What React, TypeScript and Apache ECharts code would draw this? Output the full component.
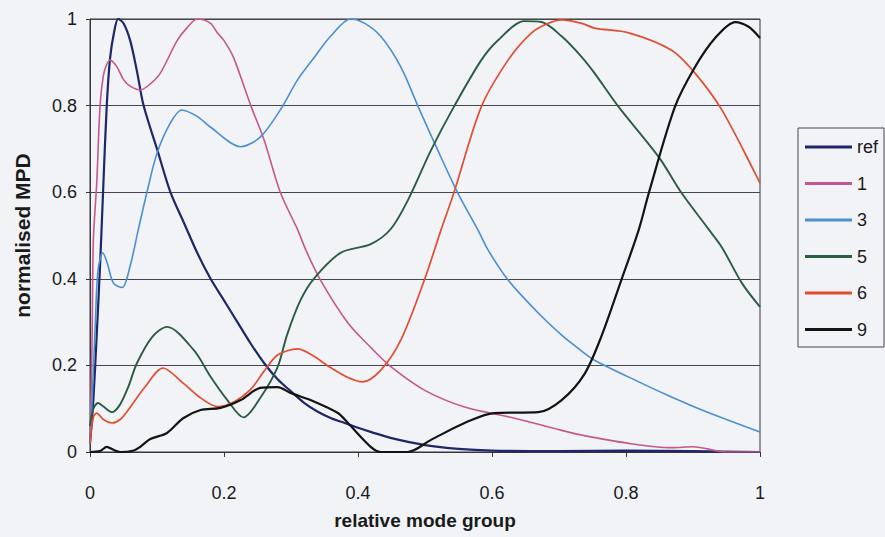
import React, { useEffect, useRef } from "react";
import * as echarts from "echarts";

const seriesNames = ["ref", "1", "3", "5", "6", "9"];
const seriesColors = ["#1e2868", "#c4588c", "#4a8fd2", "#2b5c44", "#e24c32", "#141414"];
const seriesWidths = [2.2, 1.6, 1.6, 1.9, 1.7, 2.2];

const xTickLabels = ["0", "0.2", "0.4", "0.6", "0.8", "1"];

const refX = [0, 0.005, 0.01, 0.015, 0.02, 0.025, 0.03, 0.036, 0.042, 0.05, 0.06, 0.07, 0.08, 0.1, 0.12, 0.14, 0.16, 0.18, 0.2, 0.22, 0.24, 0.26, 0.28, 0.3, 0.32, 0.34, 0.36, 0.38, 0.4, 0.42, 0.45, 0.5, 0.55, 0.6, 0.7, 0.8, 0.9, 1.0];
const refY = [0.02, 0.12, 0.27, 0.43, 0.62, 0.8, 0.91, 0.97, 1.0, 0.99, 0.95, 0.88, 0.8, 0.7, 0.6, 0.53, 0.46, 0.4, 0.35, 0.3, 0.25, 0.205, 0.168, 0.14, 0.113, 0.093, 0.078, 0.067, 0.056, 0.046, 0.032, 0.016, 0.007, 0.003, 0.002, 0.003, 0.002, 0];

const s1X = [0, 0.003, 0.005, 0.01, 0.015, 0.02, 0.025, 0.03, 0.04, 0.05, 0.06, 0.075, 0.09, 0.105, 0.13, 0.145, 0.16, 0.18, 0.19, 0.2, 0.214, 0.24, 0.26, 0.284, 0.31, 0.322, 0.344, 0.385, 0.42, 0.449, 0.499, 0.559, 0.634, 0.704, 0.734, 0.804, 0.868, 0.9, 0.95, 1.0];
const s1Y = [0.02, 0.25, 0.49, 0.62, 0.8, 0.87, 0.895, 0.905, 0.89, 0.86, 0.845, 0.836, 0.85, 0.875, 0.95, 0.98, 1.0, 0.99, 0.968, 0.95, 0.912, 0.8, 0.72, 0.6, 0.513, 0.467, 0.397, 0.298, 0.24, 0.197, 0.143, 0.104, 0.078, 0.05, 0.039, 0.02, 0.01, 0.012, 0.0, 0.0];

const s3X = [0, 0.004, 0.008, 0.012, 0.019, 0.025, 0.035, 0.048, 0.06, 0.072, 0.085, 0.1, 0.12, 0.137, 0.16, 0.18, 0.225, 0.254, 0.284, 0.31, 0.334, 0.359, 0.389, 0.41, 0.434, 0.464, 0.49, 0.519, 0.549, 0.579, 0.594, 0.624, 0.669, 0.704, 0.734, 0.753, 0.819, 0.868, 0.918, 1.0];
const s3Y = [0.02, 0.15, 0.3, 0.42, 0.46, 0.44, 0.39, 0.38, 0.43, 0.513, 0.6, 0.69, 0.76, 0.79, 0.775, 0.75, 0.705, 0.727, 0.79, 0.86, 0.91, 0.96, 1.0, 0.99, 0.96, 0.889, 0.797, 0.697, 0.598, 0.513, 0.467, 0.397, 0.321, 0.27, 0.233, 0.212, 0.162, 0.127, 0.094, 0.046];

const s5X = [0, 0.005, 0.012, 0.02, 0.033, 0.045, 0.057, 0.07, 0.093, 0.115, 0.155, 0.18, 0.205, 0.229, 0.255, 0.28, 0.294, 0.314, 0.334, 0.374, 0.419, 0.449, 0.474, 0.509, 0.543, 0.584, 0.609, 0.648, 0.674, 0.704, 0.734, 0.753, 0.789, 0.849, 0.883, 0.924, 0.943, 0.973, 1.0];
const s5Y = [0.06, 0.1, 0.113, 0.105, 0.092, 0.11, 0.15, 0.205, 0.266, 0.289, 0.235, 0.174, 0.12, 0.08, 0.127, 0.196, 0.27, 0.35, 0.4, 0.46, 0.48, 0.515, 0.58, 0.697, 0.797, 0.905, 0.951, 0.995, 0.993, 0.96, 0.912, 0.875, 0.797, 0.681, 0.598, 0.513, 0.473, 0.39, 0.335];

const s6X = [0, 0.005, 0.01, 0.02, 0.033, 0.045, 0.057, 0.082, 0.109, 0.139, 0.165, 0.19, 0.214, 0.24, 0.259, 0.28, 0.31, 0.33, 0.359, 0.385, 0.407, 0.434, 0.464, 0.499, 0.524, 0.543, 0.584, 0.624, 0.659, 0.684, 0.704, 0.734, 0.753, 0.804, 0.868, 0.903, 0.943, 1.0];
const s6Y = [0.02, 0.08, 0.09, 0.075, 0.067, 0.075, 0.097, 0.15, 0.194, 0.159, 0.125, 0.105, 0.115, 0.145, 0.185, 0.224, 0.238, 0.225, 0.195, 0.172, 0.162, 0.189, 0.259, 0.397, 0.513, 0.598, 0.797, 0.905, 0.968, 0.99, 0.998, 0.99, 0.979, 0.968, 0.928, 0.875, 0.79, 0.621];

const s9X = [0, 0.015, 0.025, 0.035, 0.045, 0.064, 0.075, 0.09, 0.115, 0.139, 0.165, 0.195, 0.225, 0.254, 0.28, 0.3, 0.329, 0.37, 0.385, 0.419, 0.434, 0.474, 0.509, 0.559, 0.603, 0.669, 0.704, 0.738, 0.763, 0.793, 0.819, 0.834, 0.873, 0.903, 0.933, 0.963, 0.983, 1.0];
const s9Y = [0, 0.002, 0.012, 0.005, 0, 0.003, 0.012, 0.03, 0.044, 0.078, 0.097, 0.102, 0.12, 0.148, 0.15, 0.136, 0.12, 0.09, 0.067, 0.012, 0, 0, 0.028, 0.067, 0.09, 0.092, 0.12, 0.18, 0.266, 0.397, 0.513, 0.598, 0.797, 0.889, 0.956, 0.993, 0.982, 0.956];

const seriesXs = [refX, s1X, s3X, s5X, s6X, s9X];
const seriesYs = [refY, s1Y, s3Y, s5Y, s6Y, s9Y];

const FONT = "Liberation Sans, Arial, sans-serif";

export default function App() {
  const divRef = useRef<HTMLDivElement>(null);
  useEffect(() => {
    const chart = echarts.init(divRef.current!, null, { renderer: "svg" });
    const series = seriesNames.map((name, i) => ({
      name,
      type: "line",
      data: seriesXs[i].map((x, j) => [x, seriesYs[i][j]]),
      smooth: 0.3,
      symbol: "none",
      showSymbol: false,
      lineStyle: { color: seriesColors[i], width: seriesWidths[i] },
      itemStyle: { color: seriesColors[i] },
      z: 3,
    }));
    chart.setOption({
      animation: false,
      backgroundColor: "#f2f3f7",
      grid: {
        left: 90,
        right: 125,
        top: 19,
        bottom: 85,
        containLabel: false,
        outerBoundsMode: "none",
        show: true,
        borderColor: "#35353d",
        borderWidth: 1,
        backgroundColor: "transparent",
      },
      xAxis: {
        type: "value",
        min: 0,
        max: 1,
        interval: 0.2,
        name: "relative mode group",
        nameLocation: "middle",
        nameGap: 59,
        nameTextStyle: { fontFamily: FONT, fontSize: 19, fontWeight: "bold", color: "#1a1a1a" },
        axisLine: { show: true, onZero: false, lineStyle: { color: "#35353d", width: 1 } },
        axisTick: { show: true, inside: false, length: 5, lineStyle: { color: "#35353d" } },
        splitLine: { show: false },
        axisLabel: {
          margin: 32,
          fontFamily: FONT,
          fontSize: 18,
          color: "#1a1a1a",
          formatter: (v: number) => xTickLabels[Math.round(v / 0.2)] ?? String(v),
        },
      },
      yAxis: {
        type: "value",
        min: 0,
        max: 1,
        interval: 0.2,
        name: "normalised MPD",
        nameLocation: "middle",
        nameGap: 57,
        nameTextStyle: { fontFamily: FONT, fontSize: 21, fontWeight: "bold", color: "#1a1a1a" },
        axisLine: { show: true, lineStyle: { color: "#35353d", width: 1 } },
        axisTick: { show: true, inside: false, length: 4, lineStyle: { color: "#35353d" } },
        splitLine: { show: true, lineStyle: { color: "#45454d", width: 1 } },
        axisLabel: { margin: 13, fontFamily: FONT, fontSize: 18, color: "#1a1a1a" },
      },
      legend: {
        orient: "vertical",
        left: 805,
        top: 138,
        icon: "rect",
        itemWidth: 47,
        itemHeight: 3,
        itemGap: 18.5,
        padding: 0,
        textStyle: { fontFamily: FONT, fontSize: 18, color: "#1a1a1a", lineHeight: 18 },
        data: seriesNames,
      },
      graphic: [
        {
          type: "rect",
          shape: { x: 798, y: 128, width: 86, height: 219 },
          style: { fill: "none", stroke: "#45454d", lineWidth: 1 },
          silent: true,
        },
      ],
      series,
    });
    return () => chart.dispose();
  }, []);
  return <div ref={divRef} style={{ position: "fixed", left: 0, top: 0, width: 885, height: 537 }} />;
}
